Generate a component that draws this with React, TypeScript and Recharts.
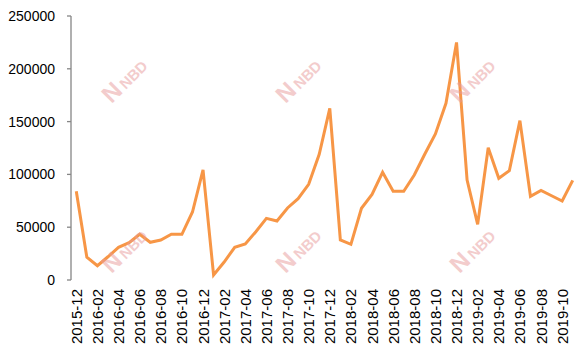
import { Line, LineChart, XAxis, YAxis } from "recharts";

// 月度数据 2015-12 ~ 2019-11
const MONTHS = [
  "2015-12",
  "2016-01", "2016-02", "2016-03", "2016-04", "2016-05", "2016-06",
  "2016-07", "2016-08", "2016-09", "2016-10", "2016-11", "2016-12",
  "2017-01", "2017-02", "2017-03", "2017-04", "2017-05", "2017-06",
  "2017-07", "2017-08", "2017-09", "2017-10", "2017-11", "2017-12",
  "2018-01", "2018-02", "2018-03", "2018-04", "2018-05", "2018-06",
  "2018-07", "2018-08", "2018-09", "2018-10", "2018-11", "2018-12",
  "2019-01", "2019-02", "2019-03", "2019-04", "2019-05", "2019-06",
  "2019-07", "2019-08", "2019-09", "2019-10", "2019-11",
];

const VALUES = [
  84000,
  21500, 13500, 22000, 31000, 35300, 43300,
  35700, 37900, 43300, 43300, 64400, 104200,
  4700, 17000, 31000, 34100, 45700, 58400,
  55900, 68200, 77000, 90600, 119000, 162600,
  37900, 33800, 67900, 81100, 102000, 84000,
  84000, 99400, 119300, 138300, 167300, 225000,
  94700, 52700, 125300, 96300, 103500, 150900,
  79200, 84900, 79800, 74800, 94400,
];

const Y_TICKS = [0, 50000, 100000, 150000, 200000, 250000];

const AXIS = "#868686";
const LINE = "#F79646";
const FONT = "'Liberation Sans', Arial, sans-serif";

// 类目中心位置 i + 0.5，边界刻度在整数处
const rows = MONTHS.map((m, i) => ({ pos: i + 0.5, month: m, value: VALUES[i] }));
const boundaryTicks = MONTHS.map((_, i) => i).concat(MONTHS.length);
const labelTicks = rows.filter((_, i) => i % 2 === 0).map((r) => r.pos);

const WATERMARKS = [
  { left: 98, top: 68 },
  { left: 272, top: 68 },
  { left: 446, top: 68 },
  { left: 98, top: 238 },
  { left: 272, top: 238 },
  { left: 446, top: 238 },
];

export default function App() {
  return (
    <div style={{ position: "absolute", left: 0, top: 0, width: 588, height: 354, background: "#fff" }}>
      <LineChart
        width={588}
        height={354}
        data={rows}
        margin={{ top: 16, right: 10, left: 0, bottom: 0 }}
        style={{ fontFamily: FONT }}
      >
        <XAxis
          xAxisId="grid"
          type="number"
          dataKey="pos"
          domain={[0, MONTHS.length]}
          ticks={boundaryTicks}
          tick={false}
          tickSize={5}
          height={0}
          axisLine={{ stroke: AXIS, strokeWidth: 1.3 }}
          tickLine={{ stroke: AXIS, strokeWidth: 1.3 }}
          allowDataOverflow
        />
        <XAxis
          xAxisId="lab"
          type="number"
          dataKey="pos"
          domain={[0, MONTHS.length]}
          ticks={labelTicks}
          interval={0}
          axisLine={false}
          tickLine={false}
          tickSize={0}
          height={74}
          tick={(props: any) => (
            <text
              x={props.x}
              y={props.y}
              transform={`rotate(-90, ${props.x}, ${props.y})`}
              textAnchor="end"
              dominantBaseline="central"
              fill="#000"
              fontSize={15}
              fontFamily={FONT}
              dx={-7}
            >
              {MONTHS[Math.floor(props.payload.value)]}
            </text>
          )}
        />
        <YAxis
          type="number"
          domain={[0, 250000]}
          ticks={Y_TICKS}
          width={71}
          tickSize={4}
          tickMargin={12}
          axisLine={{ stroke: AXIS, strokeWidth: 1.3 }}
          tickLine={{ stroke: AXIS, strokeWidth: 1.3 }}
          tick={{ fill: "#000", fontSize: 14, fontFamily: FONT }}
        />
        <Line
          xAxisId="grid"
          dataKey="value"
          type="linear"
          stroke={LINE}
          strokeWidth={3}
          dot={false}
          isAnimationActive={false}
        />
      </LineChart>
      {WATERMARKS.map((w, i) => (
        <div
          key={i}
          style={{
            position: "absolute",
            left: w.left,
            top: w.top,
            transform: "rotate(-45deg)",
            color: "#e89a9a",
            opacity: 0.5,
            fontFamily: FONT,
            fontWeight: 700,
            fontSize: 15,
            pointerEvents: "none",
            lineHeight: 1,
            whiteSpace: "nowrap",
          }}
        >
          <span style={{ fontSize: 24, marginRight: 3 }}>N</span>
          NBD
        </div>
      ))}
    </div>
  );
}
